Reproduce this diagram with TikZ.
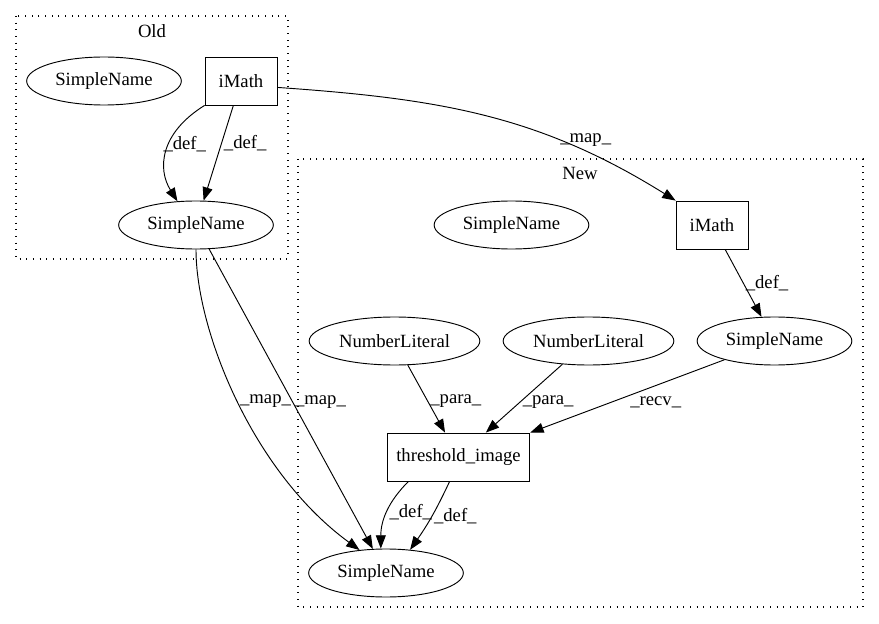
\documentclass[tikz,border=0pt]{standalone}
\usepackage{fontspec}
\setmainfont{Liberation Serif}
\usetikzlibrary{calc,shapes.geometric,arrows.meta}
\def\astnode{\node[ellipse,draw=black,line width=0.7pt,minimum width=116pt,minimum height=36pt,inner sep=0pt]}
\def\opnode{\node[rectangle,draw=black,line width=0.6pt,minimum height=36pt,inner sep=0pt]}
\def\drawedge{\draw[line width=0.7pt,-{Triangle[length=10pt,width=7.5pt]}]}
\def\drawcluster{\draw[line width=0.8pt,dash pattern=on 0.8pt off 4.2pt]}
\tikzset{lbl/.style={anchor=west,inner sep=1.5pt}}

\begin{document}
\begin{tikzpicture}[x=0.75pt,y=0.75pt,font=\fontsize{14}{16}\selectfont]
\coordinate (o) at (0,0);
\useasboundingbox (o) rectangle ($ (o) + (879,-624) $); % same frame as the reference

% The two clusters
\drawcluster ($ (o) + (16,-16) $) rectangle ($ (o) + (288,-259) $);
\node (oldlabel) at ($ (o) + (152,-31) $) {Old};
\drawcluster ($ (o) + (298,-159) $) rectangle ($ (o) + (863,-607) $);
\node (newlabel) at ($ (o) + (580,-173) $) {New};

% Old side
\astnode (oldsn) at ($ (o) + (104,-81) $) {SimpleName};
\opnode (oldmath) [minimum width=54pt] at ($ (o) + (241,-81) $) {iMath};
\astnode (oldsnb) at ($ (o) + (196,-225) $) {SimpleName};

% New side
\astnode (newsn) at ($ (o) + (511.5,-225) $) {SimpleName};
\opnode (newmath) [minimum width=54pt] at ($ (o) + (712,-225) $) {iMath};
\astnode (numlit) [minimum width=128pt] at ($ (o) + (394.5,-341) $) {NumberLiteral};
\astnode (numlitb) [minimum width=128pt] at ($ (o) + (588.5,-341) $) {NumberLiteral};
\astnode (newsnr) at ($ (o) + (774.5,-341) $) {SimpleName};
\opnode (thresh) [minimum width=107pt] at ($ (o) + (458.5,-457) $) {threshold\_image};
\astnode (outsn) at ($ (o) + (386,-573) $) {SimpleName};

% def edges inside Old
\drawedge (oldmath.south west) .. controls +(-45,-28) and +(-20,32) .. node[lbl,pos=0.42,xshift=-6pt] {\_def\_} (oldsnb.128);
\drawedge (oldmath) -- node[lbl,pos=0.4] {\_def\_} (oldsnb);

% map edges across the clusters
\drawedge (oldmath.-10) to[out=-4,in=148] node[lbl,anchor=south,pos=0.77,yshift=2pt] {\_map\_} (newmath.north west);
\drawedge (oldsnb.south) .. controls +(0,-81) and +(-107,78) .. node[lbl,pos=0.5] {\_map\_} (outsn.139);
\drawedge (oldsnb) -- node[lbl,pos=0.51] {\_map\_} (outsn);

% New: the call and its arguments
\drawedge (newmath) -- node[lbl,pos=0.5] {\_def\_} (newsnr);
\drawedge (numlit) -- node[lbl,pos=0.54] {\_para\_} (thresh);
\drawedge (numlitb) -- node[lbl,pos=0.55] {\_para\_} (thresh);
\drawedge (newsnr) -- node[lbl,pos=0.58,xshift=12pt] {\_recv\_} (thresh.north east);
\drawedge (thresh.206) to[out=225,in=90] node[lbl,pos=0.5] {\_def\_} (outsn.102);
\drawedge (thresh.250) to[out=245,in=55] node[lbl,pos=0.5] {\_def\_} (outsn.44);
\end{tikzpicture}
\end{document}
